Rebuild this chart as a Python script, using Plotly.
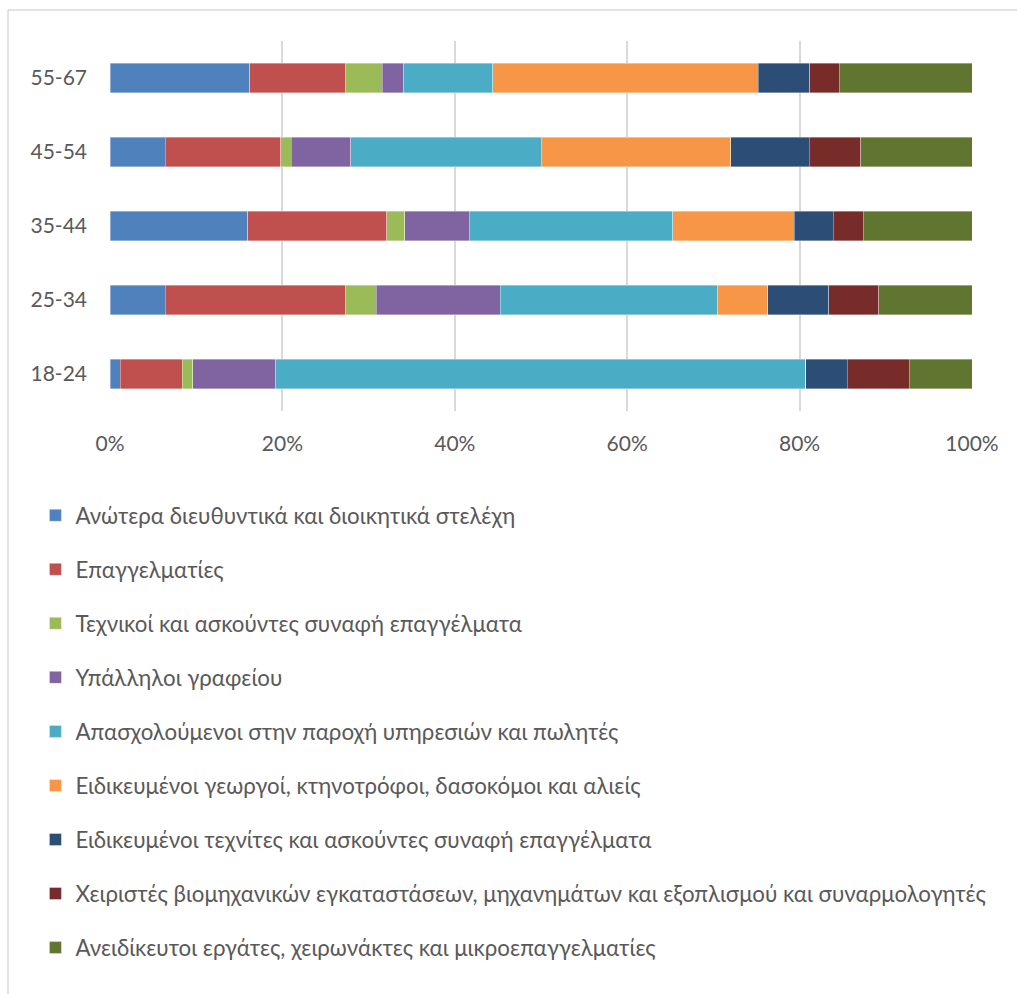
import plotly.graph_objects as go

# Age groups (bottom to top on the axis)
age_groups = ["18-24", "25-34", "35-44", "45-54", "55-67"]

# Occupational categories (legend order)
occupations = [
    "Ανώτερα διευθυντικά και διοικητικά στελέχη",
    "Επαγγελματίες",
    "Τεχνικοί και ασκούντες συναφή επαγγέλματα",
    "Υπάλληλοι γραφείου",
    "Απασχολούμενοι στην παροχή υπηρεσιών και πωλητές",
    "Ειδικευμένοι γεωργοί, κτηνοτρόφοι, δασοκόμοι και αλιείς",
    "Ειδικευμένοι τεχνίτες και ασκούντες συναφή επαγγέλματα",
    "Χειριστές βιομηχανικών εγκαταστάσεων, μηχανημάτων και εξοπλισμού και συναρμολογητές",
    "Ανειδίκευτοι εργάτες, χειρωνάκτες και μικροεπαγγελματίες",
]

# Share (%) of each occupation per age group, in age_groups order
managers = [1.2, 6.4, 16.0, 6.4, 16.2]
professionals = [7.2, 20.9, 16.1, 13.4, 11.1]
technicians = [1.2, 3.6, 2.1, 1.2, 4.3]
clerks = [9.6, 14.4, 7.5, 6.9, 2.5]
services_sales = [61.5, 25.2, 23.6, 22.1, 10.3]
agriculture = [0.0, 5.8, 14.1, 22.0, 30.8]
craft = [4.8, 7.1, 4.5, 9.1, 6.0]
operators = [7.2, 5.8, 3.5, 6.0, 3.4]
elementary = [7.3, 10.8, 12.6, 12.9, 15.4]

series = [managers, professionals, technicians, clerks, services_sales,
          agriculture, craft, operators, elementary]

colors = ["#4F81BD", "#C0504D", "#9BBB59", "#8064A2", "#4BACC6",
          "#F79646", "#2C4D75", "#772C2A", "#5F7530"]

FONT = "Lato"
TEXT = "#595959"

fig = go.Figure()
for name, vals, col in zip(occupations, series, colors):
    fig.add_trace(go.Bar(
        y=age_groups,
        x=vals,
        name=name,
        orientation="h",
        legendgroup=name,
        marker=dict(color=col, line=dict(color="rgba(255,255,255,0.45)", width=0.8)),
    ))

fig.update_layout(
    width=1017,
    height=994,
    barmode="stack",
    barnorm="percent",
    bargap=0.595,
    plot_bgcolor="white",
    paper_bgcolor="white",
    margin=dict(l=110, r=45, t=41, b=583),
    font=dict(family=FONT, size=21, color=TEXT),
    xaxis=dict(
        range=[0, 100],
        tickvals=[0, 20, 40, 60, 80, 100],
        ticktext=["0%", "20%", "40%", "60%", "80%", "100%"],
        showgrid=True,
        gridcolor="#D9D9D9",
        gridwidth=1.5,
        zeroline=False,
        showline=False,
        ticklabelstandoff=18,
        tickfont=dict(family=FONT, size=21, color=TEXT),
        fixedrange=True,
    ),
    yaxis=dict(
        categoryorder="array",
        categoryarray=age_groups,
        showgrid=False,
        zeroline=False,
        showline=False,
        ticklabelstandoff=22,
        tickfont=dict(family=FONT, size=21, color=TEXT),
        fixedrange=True,
    ),
    legend=dict(
        orientation="v",
        traceorder="grouped",
        tracegroupgap=22.05,
        x=-0.0865,
        xanchor="left",
        y=-0.225,
        yanchor="top",
        font=dict(family=FONT, size=22.3, color=TEXT),
        bgcolor="rgba(0,0,0,0)",
    ),
    showlegend=True,
)

# Light frame around the chart area (left and top edges)
frame_x = (8 - 110) / 862
frame_top = (411 - 10) / 370
frame_bottom = (411 - 1000) / 370
fig.add_shape(type="line", xref="paper", yref="paper",
              x0=frame_x, x1=frame_x, y0=frame_bottom, y1=frame_top,
              line=dict(color="#D9D9D9", width=1.5))
fig.add_shape(type="line", xref="paper", yref="paper",
              x0=frame_x, x1=1.1, y0=frame_top, y1=frame_top,
              line=dict(color="#D9D9D9", width=1.5))

fig.write_html("out.html")
